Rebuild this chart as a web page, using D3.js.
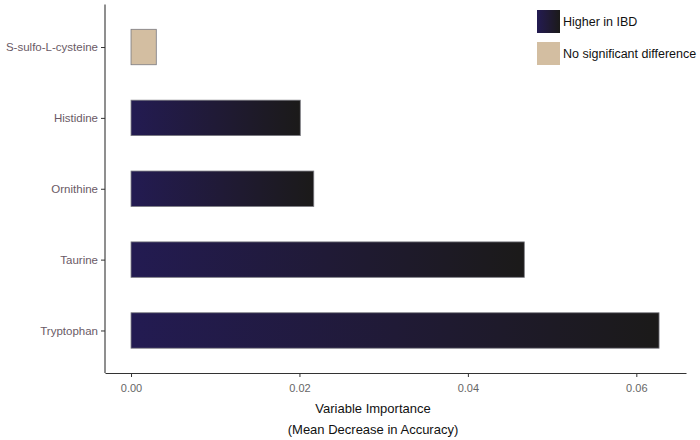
<!DOCTYPE html>
<html><head><meta charset="utf-8">
<script src="https://cdn.jsdelivr.net/npm/d3@7"></script>
<style>body{margin:0;background:#fff}</style>
</head><body>
<svg id="c" width="700" height="440"></svg>
<script>
const categories = ["S-sulfo-L-cysteine","Histidine","Ornithine","Taurine","Tryptophan"];
const values = [0.0030, 0.0201, 0.0217, 0.0467, 0.0627];
const groups = ["No significant difference","Higher in IBD","Higher in IBD","Higher in IBD","Higher in IBD"];
const xTicks = [0, 0.02, 0.04, 0.06];
const legendLabels = ["Higher in IBD","No significant difference"];

(function(){
const svg = d3.select("#c");
const pL = 105, pR = 686, pT = 4.5, pB = 373;
const x = d3.scaleLinear().domain([-0.00309, 0.0659]).range([pL, pR]);
const n = categories.length;
const step = (pB - pT) / (n - 1 + 1.2);
const yc = d3.scalePoint().domain(categories).range([pT + 0.6*step, pB - 0.6*step]);
const barH = step * 0.5;

const defs = svg.append("defs");
const g = defs.append("linearGradient").attr("id","grad").attr("x1","0%").attr("x2","100%").attr("y1","0%").attr("y2","0%");
g.append("stop").attr("offset","0%").attr("stop-color","#231b52");
g.append("stop").attr("offset","50%").attr("stop-color","#201a36");
g.append("stop").attr("offset","100%").attr("stop-color","#1b1a19");
const fillFor = grp => grp === "Higher in IBD" ? "url(#grad)" : "#d3bea1";

svg.selectAll("rect.bar").data(categories).enter().append("rect")
  .attr("class","bar")
  .attr("x", (d,i)=> x(0))
  .attr("width", (d,i)=> x(values[i]) - x(0))
  .attr("y", d => yc(d) - barH/2)
  .attr("height", barH)
  .attr("fill", (d,i)=> fillFor(groups[i]))
  .attr("stroke", "#7a7a80").attr("stroke-width", 0.8);

const xAxis = d3.axisBottom(x).tickValues(xTicks).tickFormat(d3.format(".2f")).tickSize(4).tickSizeOuter(0);
const xg = svg.append("g").attr("transform",`translate(0,${pB})`).call(xAxis);
xg.select(".domain").attr("stroke","#333").attr("stroke-width",1.1);
xg.selectAll(".tick line").attr("stroke","#333");
xg.selectAll(".tick text").attr("fill","#666").attr("font-family","Liberation Sans, Arial, sans-serif").attr("font-size",11).attr("dy","1.1em");

const yAxis = d3.axisLeft(yc).tickSize(4).tickSizeOuter(0);
const yg = svg.append("g").attr("transform",`translate(${pL},0)`).call(yAxis);
yg.select(".domain").attr("d", `M0,${pT}V${pB}`).attr("stroke","#333").attr("stroke-width",1.1);
yg.selectAll(".tick line").attr("stroke","#333");
yg.selectAll(".tick text").attr("fill","#6a5a66").attr("font-family","Liberation Sans, Arial, sans-serif").attr("font-size",11.5);

const tt = svg.append("text").attr("text-anchor","middle").attr("font-family","Liberation Sans, Arial, sans-serif").attr("font-size",13).attr("fill","#111");
tt.append("tspan").attr("x",373).attr("y",413).text("Variable Importance");
tt.append("tspan").attr("x",373).attr("y",434).text("(Mean Decrease in Accuracy)");

const lg = svg.append("g");
legendLabels.forEach((lab,i)=>{
  const yy = 10 + i*32;
  lg.append("rect").attr("x",537).attr("y",yy).attr("width",23).attr("height",23)
    .attr("fill", fillFor(lab));
  lg.append("text").attr("x",563).attr("y",yy+11.5).attr("dy","0.35em")
    .attr("font-family","Liberation Sans, Arial, sans-serif").attr("font-size",12.5).attr("fill","#111").text(lab);
});
})();
</script>
</body></html>
